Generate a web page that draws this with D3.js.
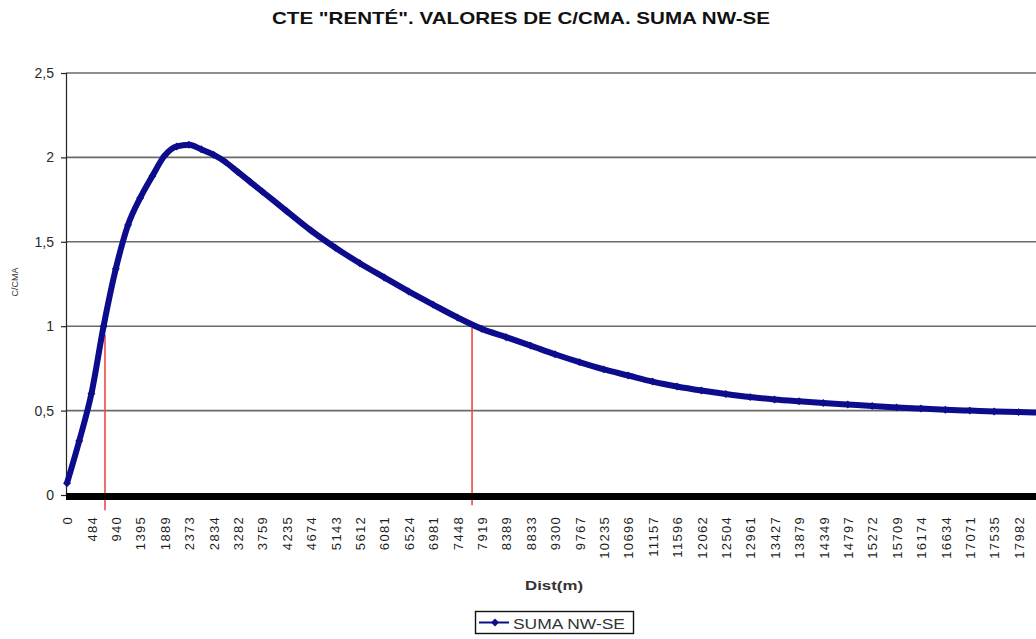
<!DOCTYPE html>
<html>
<head>
<meta charset="utf-8">
<script src="https://cdn.jsdelivr.net/npm/d3@7"></script>
<style>
  html, body { margin: 0; padding: 0; background: #fff; }
  svg { display: block; font-family: Arial, "Liberation Sans", sans-serif; }
</style>
</head>
<body>
<svg id="chart" width="1036" height="639"></svg>
<script>
// ---------- data ----------
const title = 'CTE "RENTÉ". VALORES DE C/CMA. SUMA NW-SE';
const xTitle = "Dist(m)";
const yTitle = "C/CMA";
const seriesName = "SUMA NW-SE";

const distLabels = ["0","484","940","1395","1889","2373","2834","3282","3759","4235","4674","5143","5612","6081","6524","6981","7448","7919","8389","8833","9300","9767","10235","10696","11157","11596","12062","12504","12961","13427","13879","14349","14797","15272","15709","16174","16634","17071","17535","17982"];

const distM = [0,242,484,712,940,1168,1395,1642,1889,2131,2373,2604,2834,3058,3282,3520,3759,4235,4674,5143,5612,6081,6524,6981,7448,7919,8389,8833,9300,9767,10235,10696,11157,11596,12062,12504,12961,13427,13879,14349,14797,15272,15709,16174,16634,17071,17535,17982,18430];

const cma = [0.07,0.32,0.6,1.0,1.34,1.6,1.76,1.89,2.01,2.065,2.075,2.048,2.016,1.972,1.914,1.856,1.798,1.682,1.567,1.465,1.373,1.289,1.206,1.128,1.052,0.984,0.935,0.885,0.834,0.787,0.744,0.708,0.672,0.643,0.619,0.598,0.58,0.566,0.555,0.545,0.536,0.527,0.519,0.512,0.505,0.5,0.495,0.491,0.488];

const yTicks = [0, 0.5, 1, 1.5, 2, 2.5];

// red reference lines (C/CMA = 1 crossings)
const refDist = [738, 7731];
const refTop = [0.95, 0.99];
const refBottom = [-0.09, -0.06];

// ---------- layout ----------
const svg = d3.select("#chart");
const plotLeft = 66, plotRight = 1036;
const cat0 = 67, catStep = 24.4;
const distNums = distLabels.map(Number);

const x = d3.scaleLinear()
  .domain(distNums)
  .range(distNums.map((d, i) => cat0 + i * catStep));
const y = d3.scaleLinear().domain([0, 2.5]).range([495, 73]);

// gridlines
svg.append("g").selectAll("line").data(yTicks.filter(d => d > 0)).join("line")
  .attr("x1", plotLeft).attr("x2", plotRight)
  .attr("y1", d => y(d)).attr("y2", d => y(d))
  .attr("stroke", "#6a6a6a").attr("stroke-width", 1.6);

// y axis
const yAxis = svg.append("g").attr("transform", `translate(${plotLeft},0)`)
  .call(d3.axisLeft(y).tickValues(yTicks).tickSize(5).tickPadding(7)
    .tickFormat(d => String(d).replace(".", ",")));
yAxis.select(".domain").attr("stroke", "#222").attr("stroke-width", 1.2);
yAxis.selectAll(".tick line").attr("stroke", "#222").attr("stroke-width", 1.2);
yAxis.selectAll(".tick text").attr("font-size", 14).attr("fill", "#2a2a2a")
  .attr("font-family", "Arial, 'Liberation Sans', sans-serif");

// y title
svg.append("text")
  .attr("transform", "translate(18,282) rotate(-90)")
  .attr("text-anchor", "middle")
  .attr("font-size", 9).attr("fill", "#333")
  .text(yTitle);

// red reference lines
svg.append("g").selectAll("line").data(refDist).join("line")
  .attr("x1", d => x(d)).attr("x2", d => x(d))
  .attr("y1", (d, i) => y(refTop[i])).attr("y2", (d, i) => y(refBottom[i]))
  .attr("stroke", "#ec4a4a").attr("stroke-width", 1.6);

// thick x axis line
svg.append("line")
  .attr("x1", plotLeft).attr("x2", plotRight)
  .attr("y1", y(0) + 1.5).attr("y2", y(0) + 1.5)
  .attr("stroke", "#000").attr("stroke-width", 7);

// x axis labels
const xAxis = svg.append("g").attr("transform", `translate(0,${y(0)})`)
  .call(d3.axisBottom(x).tickValues(distNums).tickSize(0)
    .tickFormat((d, i) => distLabels[i]));
xAxis.select(".domain").remove();
xAxis.selectAll(".tick text")
  .attr("transform", "rotate(-90)")
  .attr("text-anchor", "end")
  .attr("x", -21).attr("y", 0).attr("dy", "0.36em")
  .attr("font-size", 13).attr("letter-spacing", 1.3)
  .attr("fill", "#1e1e1e")
  .attr("font-family", "Arial, 'Liberation Sans', sans-serif");

// x title
svg.append("text")
  .attr("x", 525).attr("y", 590)
  .attr("textLength", 58).attr("lengthAdjust", "spacingAndGlyphs")
  .attr("font-size", 12).attr("font-weight", "bold").attr("fill", "#333")
  .text(xTitle);

// series line
const pts = distM.map((d, i) => [x(d), y(cma[i])]);
svg.append("path")
  .attr("d", d3.line().curve(d3.curveMonotoneX)(pts))
  .attr("fill", "none").attr("stroke", "#0c0c8c").attr("stroke-width", 6)
  .attr("stroke-linejoin", "round");
svg.append("g").selectAll("path").data(pts).join("path")
  .attr("transform", d => `translate(${d[0]},${d[1]})`)
  .attr("d", d3.symbol(d3.symbolDiamond2, 40))
  .attr("fill", "#0c0c8c");

// title
svg.append("text")
  .attr("x", 272).attr("y", 24)
  .attr("textLength", 498).attr("lengthAdjust", "spacingAndGlyphs")
  .attr("font-size", 17).attr("font-weight", "bold").attr("fill", "#111")
  .text(title);

// legend
const lg = svg.append("g");
lg.append("rect").attr("x", 475.5).attr("y", 611.5).attr("width", 158).attr("height", 22)
  .attr("fill", "#fff").attr("stroke", "#111").attr("stroke-width", 1.4);
lg.append("line").attr("x1", 479).attr("x2", 509).attr("y1", 622.5).attr("y2", 622.5)
  .attr("stroke", "#0c0c8c").attr("stroke-width", 2);
lg.append("path").attr("transform", "translate(495,622.5)")
  .attr("d", d3.symbol(d3.symbolDiamond2, 40)).attr("fill", "#0c0c8c");
lg.append("text").attr("x", 513).attr("y", 628.5)
  .attr("textLength", 112).attr("lengthAdjust", "spacingAndGlyphs")
  .attr("font-size", 14).attr("fill", "#333")
  .text(seriesName);
</script>
</body>
</html>
